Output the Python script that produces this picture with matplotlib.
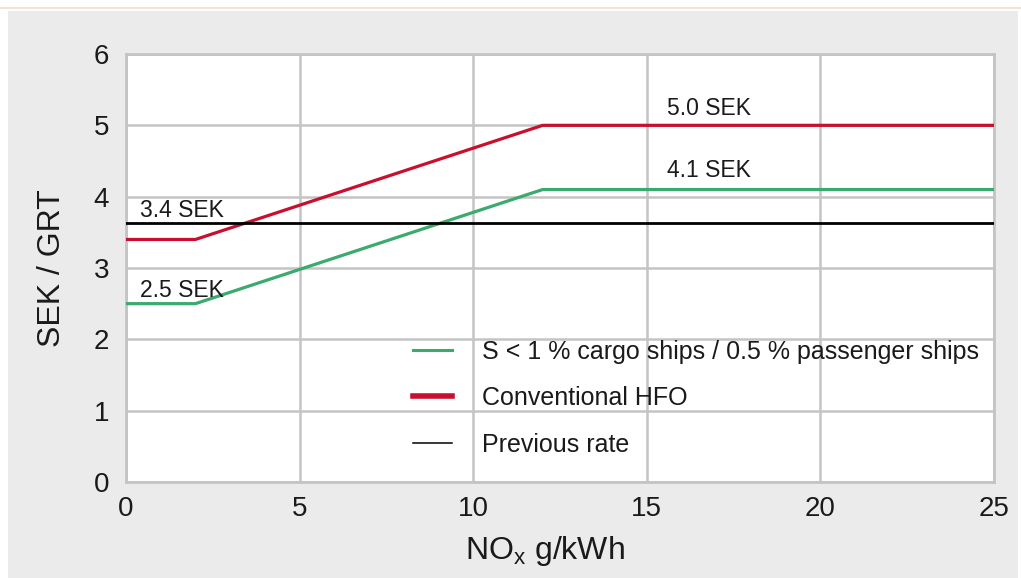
import matplotlib
matplotlib.use("Agg")
import matplotlib.pyplot as plt
from matplotlib.patches import Rectangle
from matplotlib.lines import Line2D

plt.rcParams['font.family'] = ['Liberation Sans', 'DejaVu Sans']

# NOx emission level (g/kWh) and fairway dues (SEK per GRT)
nox = [0, 2, 12, 25]
hfo_rate = [3.4, 3.4, 5.0, 5.0]
low_sulphur_rate = [2.5, 2.5, 4.1, 4.1]
previous_rate = 3.63

x_ticks = [0, 5, 10, 15, 20, 25]
y_ticks = [0, 1, 2, 3, 4, 5, 6]

series_labels = ["S < 1 % cargo ships / 0.5 % passenger ships",
                 "Conventional HFO",
                 "Previous rate"]

RED = "#c8102e"
GREEN = "#3aaa6e"
GRID = "#c4c4c4"
INK = "#1a1a1a"

W, H = 1021, 578
fig = plt.figure(figsize=(W / 100, H / 100), dpi=100, facecolor="white")

# grey panel behind the chart and thin peach rule along the top
fig.add_artist(Rectangle((8 / W, 0), (1018 - 8) / W, (H - 11) / H,
                         transform=fig.transFigure, facecolor="#ebebeb",
                         edgecolor="none", zorder=-10))
fig.add_artist(Line2D([0, 1], [1 - 7.5 / H, 1 - 7.5 / H], transform=fig.transFigure,
                      color="#f6e2cf", lw=1.5, zorder=-9))

ax = fig.add_axes([126 / W, 1 - 482 / H, (994 - 126) / W, (482 - 54) / H])
ax.set_facecolor("white")

ax.plot(nox, low_sulphur_rate, color=GREEN, lw=2.3, solid_joinstyle="miter", zorder=3)
ax.plot(nox, hfo_rate, color=RED, lw=2.3, solid_joinstyle="miter", zorder=3)
ax.axhline(previous_rate, color="black", lw=2.0, zorder=4)

ax.set_xlim(x_ticks[0], x_ticks[-1])
ax.set_ylim(y_ticks[0], y_ticks[-1])
ax.set_xticks(x_ticks)
ax.set_yticks(y_ticks)
ax.grid(True, color=GRID, lw=1.8, zorder=1)
ax.set_axisbelow(True)
for s in ax.spines.values():
    s.set_color(GRID)
    s.set_linewidth(2.0)
ax.tick_params(length=0, labelsize=20, colors=INK)
ax.tick_params(axis="x", pad=10)
ax.tick_params(axis="y", pad=12)

ax.set_xlabel(r"NO$_\mathregular{x}$ g/kWh", fontsize=23, color=INK, labelpad=9, x=0.483)
ax.set_ylabel("SEK / GRT", fontsize=23, color=INK, labelpad=19)

# rate labels
ann = dict(fontsize=16.5, color=INK, va="baseline", ha="left")
ax.text(0.4, hfo_rate[0] + 0.31, f"{hfo_rate[0]:.1f} SEK", **ann)
ax.text(0.4, low_sulphur_rate[0] + 0.09, f"{low_sulphur_rate[0]:.1f} SEK", **ann)
ax.text(15.58, hfo_rate[-1] + 0.145, f"{hfo_rate[-1]:.1f} SEK", **ann)
ax.text(15.58, low_sulphur_rate[-1] + 0.175, f"{low_sulphur_rate[-1]:.1f} SEK", **ann)

handles = [Line2D([], [], color=GREEN, lw=2.2),
           Line2D([], [], color=RED, lw=4.0),
           Line2D([], [], color="black", lw=1.1)]
leg = ax.legend(handles, series_labels, loc="lower left",
                bbox_to_anchor=((413 - 126) / 868, 0.059), frameon=False,
                borderpad=0, borderaxespad=0,
                fontsize=18, handlelength=1.55, handletextpad=1.2,
                labelspacing=0.9)
for t in leg.get_texts():
    t.set_color(INK)

fig.savefig("out.png", dpi=100, facecolor=fig.get_facecolor())
